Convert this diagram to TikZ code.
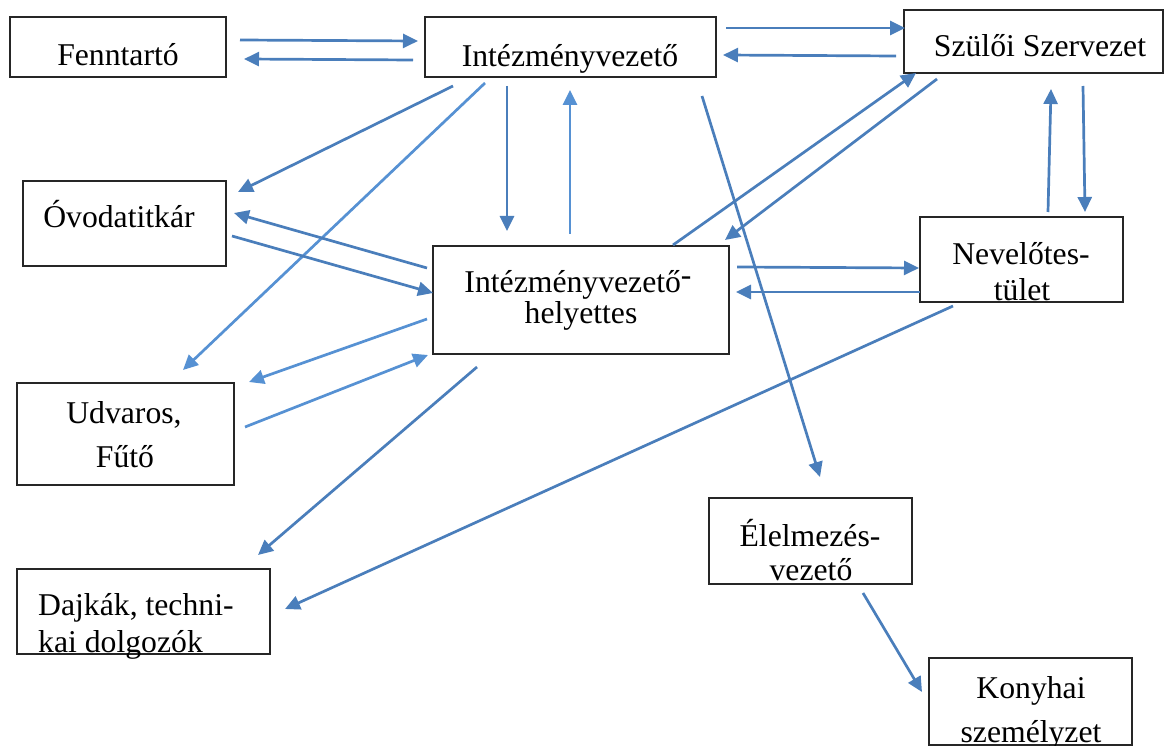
\documentclass[tikz,border=0pt]{standalone}
\usepackage{fontspec}
\setmainfont{Liberation Serif}
\usetikzlibrary{arrows.meta}
\definecolor{arrblue}{RGB}{74,126,187}
\definecolor{arrlight}{RGB}{86,145,211}
\begin{document}
\begin{tikzpicture}[x=1pt,y=-1pt,
  box/.style={draw=black!85,line width=1.3pt,inner sep=0pt,outer sep=0pt,anchor=north west},
  lbl/.style={anchor=base,inner sep=0pt,font=\fontsize{31.7}{38}\selectfont},
  arr/.style={draw=arrblue,line width=2.7pt,-{Triangle[length=15pt,width=14pt]}},
  arrl/.style={arr,draw=arrlight}]
\useasboundingbox (0,0) rectangle (1165,746);
% boxes
\node[box,minimum width=216pt,minimum height=60pt] (fen) at (10,17) {};
\node[box,minimum width=291pt,minimum height=60pt] (iv) at (425,17) {};
\node[box,minimum width=259pt,minimum height=63pt] (sz) at (904,10) {};
\node[box,minimum width=203pt,minimum height=85pt] (ovo) at (23,181) {};
\node[box,minimum width=296pt,minimum height=108pt] (ivh) at (433,246) {};
\node[box,minimum width=203pt,minimum height=85pt] (nev) at (920,217) {};
\node[box,minimum width=217pt,minimum height=102pt] (udv) at (17,383) {};
\node[box,minimum width=253pt,minimum height=85pt] (daj) at (17,569) {};
\node[box,minimum width=203pt,minimum height=86pt] (ele) at (709,498) {};
\node[box,minimum width=203pt,minimum height=87pt] (kon) at (929,658) {};
% labels
\node[lbl] (fent) at (118,66) {Fenntartó};
\node[lbl] (ivt) at (570,67) {Intézményvezető};
\node[lbl] (szt) at (1040,57) {Szülői Szervezet};
\node[lbl] (ovot) at (119,228) {Óvodatitkár};
\node[lbl] (ivht1) at (578,292) {Intézményvezető\raisebox{6pt}{-}};
\node[lbl] (ivht2) at (581,323) {helyettes};
\node[lbl] (nevt1) at (1021,265) {Nevelőtes-};
\node[lbl] (nevt2) at (1022,300) {tület};
\node[lbl] (udvt1) at (124,423) {Udvaros,};
\node[lbl] (udvt2) at (125,467) {Fűtő};
\node[lbl,anchor=base west] (dajt1) at (38,615) {Dajkák, techni-};
\node[lbl,anchor=base west] (dajt2) at (38,652) {kai dolgozók};
\node[lbl] (elet1) at (810,546) {Élelmezés-};
\node[lbl] (elet2) at (811,580) {vezető};
\node[lbl] (kont1) at (1031,698) {Konyhai};
\node[lbl] (kont2) at (1031,742) {személyzet};
% connectors
\draw[arr] ([shift={(230,23)}]fen.north west) -- ([shift={(-7,24)}]iv.north west);
\draw[arr] ([shift={(-12,43)}]iv.north west) -- ([shift={(234,42)}]fen.north west);
\draw[arr] ([shift={(301,11)}]iv.north west) -- ([shift={(1,18)}]sz.north west);
\draw[arr] ([shift={(-8,46)}]sz.north west) -- ([shift={(298,38)}]iv.north west);
\draw[arr] ([shift={(28,69)}]iv.north west) -- ([shift={(215,11)}]ovo.north west);
\draw[arrl] ([shift={(60,66)}]iv.north west) -- ([shift={(166,-13)}]udv.north west);
\draw[arr] ([shift={(82,69)}]iv.north west) -- ([shift={(74,-15)}]ivh.north west);
\draw[arrl] ([shift={(137,-12)}]ivh.north west) -- ([shift={(145,73)}]iv.north west);
\draw[arr] ([shift={(277,79)}]iv.north west) -- ([shift={(111,-21)}]ele.north west);
\draw[arr] ([shift={(240,-1)}]ivh.north west) -- ([shift={(12,63)}]sz.north west);
\draw[arr] ([shift={(33,69)}]sz.north west) -- ([shift={(292,-6)}]ivh.north west);
\draw[arr] ([shift={(209,55)}]ovo.north west) -- ([shift={(0,47)}]ivh.north west);
\draw[arr] ([shift={(-6,22)}]ivh.north west) -- ([shift={(211,32)}]ovo.north west);
\draw[arrl] ([shift={(-6,73)}]ivh.north west) -- ([shift={(232,-1)}]udv.north west);
\draw[arrl] ([shift={(228,44)}]udv.north west) -- ([shift={(-5,109)}]ivh.north west);
\draw[arr] ([shift={(44,121)}]ivh.north west) -- ([shift={(241,-14)}]daj.north west);
\draw[arr] ([shift={(33,89)}]nev.north west) -- ([shift={(268,40)}]daj.north west);
\draw[arr] ([shift={(304,21)}]ivh.north west) -- ([shift={(-1,51)}]nev.north west);
\draw[arr] ([shift={(0,75)}]nev.north west) -- ([shift={(303,46)}]ivh.north west);
\draw[arr] ([shift={(128,-5)}]nev.north west) -- ([shift={(147,79)}]sz.north west);
\draw[arr] ([shift={(179,76)}]sz.north west) -- ([shift={(165,-5)}]nev.north west);
\draw[arr] ([shift={(154,95)}]ele.north west) -- ([shift={(-7,34)}]kon.north west);
\end{tikzpicture}
\end{document}
